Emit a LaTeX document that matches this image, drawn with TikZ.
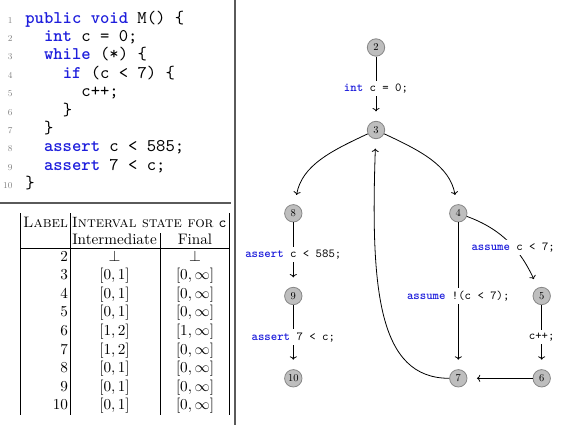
\documentclass[tikz,border=0pt]{standalone}
\usetikzlibrary{arrows.meta}
\definecolor{kw}{RGB}{30,30,220}
\definecolor{nodefill}{RGB}{190,190,190}
\definecolor{nodedraw}{RGB}{135,135,135}
\definecolor{divcol}{RGB}{90,90,90}
\newcommand{\kw}[1]{{\color{kw}\bfseries #1}}
\begin{document}
\begin{tikzpicture}[x=1pt,y=1pt,
  codeline/.style={anchor=base west, inner sep=0pt, scale=1.78, font=\fontsize{10}{10}\selectfont\ttfamily},
  lineno/.style={anchor=base east, inner sep=0pt, text=gray, font=\fontsize{9}{10}\selectfont},
  cfg/.style={circle, draw=nodedraw, fill=nodefill, line width=0.8pt, minimum size=17.4pt, inner sep=0pt, font=\fontsize{10.5}{10}\selectfont},
  flow/.style={->, line width=0.8pt, shorten >=9.5pt},
  elab/.style={fill=white, inner sep=2.5pt, scale=1.22, font=\fontsize{10}{10}\selectfont\ttfamily},
  tcell/.style={inner sep=0pt, scale=1.52, font=\fontsize{10}{12}\selectfont},
  tline/.style={line width=0.7pt},
  divider/.style={draw=divcol, line width=1.3pt},
]
\useasboundingbox (0,0) rectangle (565,-425);

% dividers
\draw[divider] (235,0) -- (235,-425);
\draw[divider] (0,-203) -- (231,-203);

% code listing
\foreach \k [count=\i from 0] in {1,...,10}
  \node[lineno] (l\k) at (12.7,{-23.3-18.35*\i}) {\k};
\node[codeline] (c1) at (25,-23.3) {\kw{public} \kw{void} M() \{};
\node[codeline] (c2) at (43.7,-41.65) {\kw{int} c = 0;};
\node[codeline] (c3) at (43.7,-60.0) {\kw{while} (*) \{};
\node[codeline] (c4) at (62.4,-78.35) {\kw{if} (c < 7) \{};
\node[codeline] (c5) at (81.1,-96.7) {c++;};
\node[codeline] (c6) at (62.4,-115.05) {\}};
\node[codeline] (c7) at (43.7,-133.4) {\}};
\node[codeline] (c8) at (43.7,-151.75) {\kw{assert} c < 585;};
\node[codeline] (c9) at (43.7,-170.1) {\kw{assert} 7 < c;};
\node[codeline] (c10) at (25,-188.45) {\}};

% table
\draw[tline] (20.5,-213) -- (20.5,-415);
\draw[tline] (70,-213) -- (70,-415);
\draw[tline] (160,-233) -- (160,-415);
\draw[tline] (229.5,-213) -- (229.5,-415);
\draw[tline] (20.5,-248.5) -- (229.5,-248.5);
\node[tcell, anchor=base east] (hlabel) at (68.3,-227.5) {\textsc{Label}};
\node[tcell, anchor=base, scale=0.98] (hstate) at (149.2,-227.5) {\textsc{Interval state for} \texttt{c}};
\node[tcell, anchor=base] (hinter) at (114.5,-244) {Intermediate};
\node[tcell, anchor=base] (hfinal) at (195,-244) {Final};
\foreach \l/\a/\b [count=\i from 0] in {
  2/{$\bot$}/{$\bot$},
  3/{$[0,1]$}/{$[0,\infty]$},
  4/{$[0,1]$}/{$[0,\infty]$},
  5/{$[0,1]$}/{$[0,\infty]$},
  6/{$[1,2]$}/{$[1,\infty]$},
  7/{$[1,2]$}/{$[0,\infty]$},
  8/{$[0,1]$}/{$[0,\infty]$},
  9/{$[0,1]$}/{$[0,\infty]$},
  10/{$[0,1]$}/{$[0,\infty]$}}{
  \node[tcell, anchor=base east] (r\l) at (68.3,{-261-18.6*\i}) {\l};
  \node[tcell, anchor=base] (ri\l) at (114.5,{-261-18.6*\i}) {\a};
  \node[tcell, anchor=base] (rf\l) at (195,{-261-18.6*\i}) {\b};
}

% control-flow graph
\node[cfg] (n2) at (376,-47.5) {2};
\node[cfg] (n3) at (376,-130) {3};
\node[cfg] (n8) at (293.3,-213.3) {8};
\node[cfg] (n4) at (458.3,-213.3) {4};
\node[cfg] (n9) at (293.3,-296) {9};
\node[cfg] (n5) at (541.7,-296) {5};
\node[cfg] (n10) at (293.3,-378.3) {10};
\node[cfg] (n7) at (458.3,-378.3) {7};
\node[cfg] (n6) at (541.7,-378.3) {6};

\draw[flow] (n2) -- node[elab]{\kw{int} c = 0;} (n3);
\draw[flow] (n3) to[out=205,in=80] (n8);
\draw[flow] (n3) to[out=-25,in=100] (n4);
\draw[flow] (n8) -- node[elab]{\kw{assert} c < 585;} (n9);
\draw[flow] (n9) -- node[elab]{\kw{assert} 7 < c;} (n10);
\draw[flow] (n4) to[out=-20,in=115] node[elab,pos=0.55]{\kw{assume} c < 7;} (n5);
\draw[flow] (n4) -- node[elab]{\kw{assume} !(c < 7);} (n7);
\draw[flow] (n5) -- node[elab]{c++;} (n6);
\draw[flow] (n6) -- (n7);
\draw[flow] (n7) .. controls +(-80,0) and +(-5.6,-160) .. (n3);
\end{tikzpicture}
\end{document}
